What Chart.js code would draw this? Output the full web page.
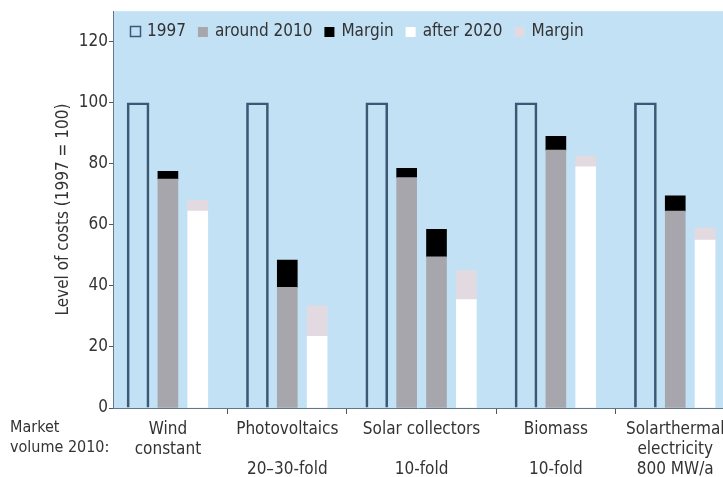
<!DOCTYPE html>
<html>
<head>
<meta charset="utf-8">
<script src="https://cdn.jsdelivr.net/npm/chart.js@4/dist/chart.umd.min.js"></script>
<style>
  html, body { margin: 0; padding: 0; background: #fff; }
  #wrap { width: 723px; height: 477px; }
</style>
</head>
<body>
<div id="wrap"><canvas id="costChart"></canvas></div>
<script>
// cost level per technology (1997 = 100)
const technologies = ['Wind', 'Photovoltaics', 'Solar collectors', 'Biomass', 'Solarthermal electricity'];
const cost1997 = [100, 100, 100, 100, 100];
// solar collectors has two bars for "around 2010"
const cost2010 = [[75], [39.5], [75.5, 49.5], [84.5], [64.5]];
const margin2010 = [[2.5], [9], [3, 9], [4.5], [5]];
const cost2020 = [64.5, 23.5, 35.5, 79, 55];
const margin2020 = [3.5, 10, 9.5, 3.5, 4];

const xTickLabels = [
  ['Wind', 'constant', ''],
  ['Photovoltaics', '', '20–30-fold'],
  ['Solar collectors', '', '10-fold'],
  ['Biomass', '', '10-fold'],
  ['Solarthermal', 'electricity', '800 MW/a']
];
const yTicks = [0, 20, 40, 60, 80, 100, 120];
const legendLabels = ['1997', 'around 2010', 'Margin', 'after 2020', 'Margin'];
const yTitle = 'Level of costs (1997 = 100)';
const rowTitle = ['Market', 'volume 2010:'];

const FONT = "'DejaVu Sans Condensed', 'Liberation Sans Narrow', 'DejaVu Sans', sans-serif";
const TEXT = '#333';
const SIZE = 17;

// lay the bars out slot by slot, one empty slot between technologies
const p1997 = [], p2010 = [], m2010 = [], p2020 = [], m2020 = [];
const centers = [], bounds = [];
let slot = 0;
technologies.forEach(function(t, i) {
  const first = slot;
  p1997.push({ x: slot, y: cost1997[i] });
  slot++;
  cost2010[i].forEach(function(v, j) {
    p2010.push({ x: slot, y: v });
    m2010.push({ x: slot, y: margin2010[i][j] });
    slot++;
  });
  p2020.push({ x: slot, y: cost2020[i] });
  m2020.push({ x: slot, y: margin2020[i] });
  centers.push((first + slot) / 2);
  slot += 2;
  if (i < technologies.length - 1) bounds.push(slot - 1);
});

const plotBg = {
  id: 'plotBg',
  beforeDraw(chart) {
    const { ctx, chartArea: a } = chart;
    ctx.save();
    ctx.fillStyle = '#fff';
    ctx.fillRect(0, 0, chart.width, chart.height);
    ctx.fillStyle = '#c3e1f5';
    ctx.fillRect(a.left, a.top, a.right - a.left, a.bottom - a.top);
    ctx.restore();
  }
};

// legend sits inside the plot, along the top
const innerLegend = {
  id: 'innerLegend',
  afterDatasetsDraw(chart) {
    const ctx = chart.ctx;
    let x = chart.chartArea.left + 17;
    const y = 32;
    ctx.save();
    ctx.font = SIZE + 'px ' + FONT;
    ctx.textBaseline = 'middle';
    chart.data.datasets.forEach(function(ds) {
      if (ds.borderWidth) {
        ctx.strokeStyle = ds.borderColor;
        ctx.lineWidth = 1.5;
        ctx.strokeRect(x + 0.5, y - 5.5, 10, 10);
      } else {
        ctx.fillStyle = ds.backgroundColor;
        ctx.fillRect(x, y - 5, 10, 10);
      }
      x += 17;
      ctx.fillStyle = TEXT;
      ctx.fillText(ds.label, x, y);
      x += ctx.measureText(ds.label).width + 12;
    });
    ctx.restore();
  }
};

const rowLabel = {
  id: 'rowLabel',
  afterDraw(chart) {
    const ctx = chart.ctx;
    ctx.save();
    ctx.font = '16px ' + FONT;
    ctx.fillStyle = TEXT;
    ctx.textBaseline = 'middle';
    rowTitle.forEach(function(line, i) {
      ctx.fillText(line, 10, 428 + i * 20);
    });
    ctx.restore();
  }
};

function barSet(label, data, stack, color, width) {
  return {
    label: label,
    data: data,
    stack: stack,
    backgroundColor: color,
    borderWidth: 0,
    barThickness: width,
    grouped: false
  };
}

const outline = barSet(legendLabels[0], p1997, 'a', 'rgba(0,0,0,0)', 22);
outline.borderColor = '#3b5876';
outline.borderWidth = 2;

new Chart(document.getElementById('costChart'), {
  type: 'bar',
  data: {
    datasets: [
      outline,
      barSet(legendLabels[1], p2010, 'b', '#a8a6ad', 20),
      barSet(legendLabels[2], m2010, 'b', '#000000', 20),
      barSet(legendLabels[3], p2020, 'c', '#ffffff', 20),
      barSet(legendLabels[4], m2020, 'c', '#e2dae0', 20)
    ]
  },
  options: {
    responsive: true,
    maintainAspectRatio: false,
    animation: false,
    layout: { padding: { top: 11, right: 0, bottom: 0, left: 0 } },
    plugins: {
      legend: { display: false },
      tooltip: { enabled: false }
    },
    scales: {
      x: {
        type: 'linear',
        offset: false,
        min: -0.84,
        max: 19.6,
        afterBuildTicks(scale) {
          scale.ticks = centers.concat(bounds).sort(function(a, b) { return a - b; })
            .map(function(v) { return { value: v }; });
        },
        afterFit(scale) {
          // long last label may run off the edge, like the plot itself
          scale.height = 69;
          scale.paddingLeft = 0;
          scale.paddingRight = 0;
        },
        grid: {
          offset: false,
          drawOnChartArea: false,
          tickLength: 6,
          tickColor(c) {
            return c.tick && bounds.indexOf(c.tick.value) >= 0 ? '#555' : 'rgba(0,0,0,0)';
          }
        },
        border: { color: '#62778a', width: 1 },
        ticks: {
          autoSkip: false,
          maxRotation: 0,
          padding: 6,
          color: TEXT,
          font: { family: FONT, size: SIZE, lineHeight: 20 / SIZE },
          callback(value) {
            const i = centers.indexOf(value);
            return i >= 0 ? xTickLabels[i] : '';
          }
        }
      },
      y: {
        stacked: true,
        min: 0,
        max: 130,
        afterBuildTicks(scale) {
          scale.ticks = yTicks.map(function(v) { return { value: v }; });
        },
        afterFit(scale) { scale.width = 113; },
        grid: { drawOnChartArea: false, tickLength: 4, tickColor: '#555' },
        border: { color: '#62778a', width: 1 },
        ticks: {
          padding: 1,
          color: TEXT,
          font: { family: FONT, size: SIZE }
        },
        title: {
          display: true,
          text: yTitle,
          color: TEXT,
          font: { family: FONT, size: SIZE },
          padding: { top: 53, bottom: 0 }
        }
      }
    }
  },
  plugins: [plotBg, innerLegend, rowLabel]
});
</script>
</body>
</html>
